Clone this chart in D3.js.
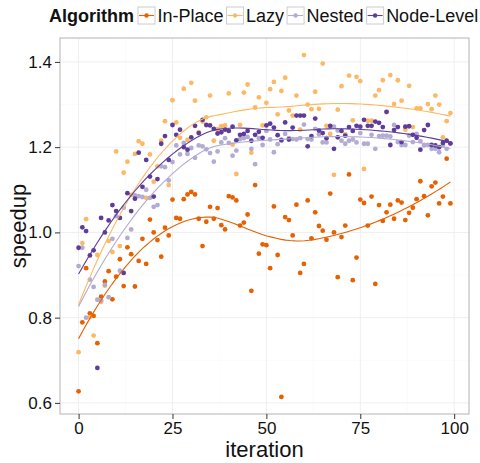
<!DOCTYPE html>
<html>
<head>
<meta charset="utf-8">
<script src="https://cdn.jsdelivr.net/npm/d3@7"></script>
<style>
  body { margin: 0; background: #fff; }
  text { font-family: "Liberation Sans", Arial, sans-serif; }
</style>
</head>
<body>
<script>
const width = 480
const height = 463

// Series: one value per iteration 0..99
const algorithms = ['In-Place', 'Lazy', 'Nested', 'Node-Level']
const colors = ['#e66101', '#fdb863', '#b2abd2', '#5e3c99']

const inPlace = [
  0.627, 0.789, 0.916, 0.810, 0.804, 0.740, 0.849, 0.885, 0.909, 0.843,
  0.896, 0.937, 0.874, 0.965, 0.949, 0.873, 0.933, 0.985, 0.926, 1.030,
  1.000, 0.982, 0.943, 1.011, 0.993, 1.077, 1.034, 1.032, 1.078, 1.089,
  1.095, 1.089, 1.032, 0.968, 1.025, 1.060, 1.032, 1.057, 1.017, 1.007,
  1.085, 1.082, 1.075, 1.016, 1.023, 1.042, 0.863, 1.111, 0.950, 0.972,
  0.970, 0.916, 1.061, 0.947, 0.614, 1.036, 1.029, 0.993, 1.065, 0.905,
  0.926, 1.075, 0.986, 1.047, 1.015, 1.004, 0.983, 1.091, 1.000, 0.895,
  0.989, 1.016, 1.136, 0.888, 0.941, 1.077, 1.069, 1.016, 1.084, 0.879,
  1.064, 1.027, 1.047, 1.065, 1.032, 1.075, 1.070, 1.029, 1.046, 1.058,
  1.078, 1.120, 1.085, 1.040, 1.108, 1.117, 1.068, 1.084, 1.173, 1.068
]
const lazy = [
  0.719, 0.975, 1.031, 0.801, 0.758, 0.947, 0.837, 0.875, 0.980, 0.954,
  1.190, 0.968, 1.140, 1.166, 1.088, 1.184, 1.214, 1.208, 1.081, 1.183,
  1.119, 1.155, 1.215, 1.261, 1.111, 1.310, 1.258, 1.222, 1.337, 1.217,
  1.351, 1.309, 1.235, 1.260, 1.270, 1.321, 1.215, 1.242, 1.249, 1.251,
  1.326, 1.206, 1.137, 1.252, 1.328, 1.347, 1.187, 1.293, 1.317, 1.251,
  1.304, 1.336, 1.353, 1.277, 1.332, 1.363, 1.286, 1.274, 1.321, 1.241,
  1.416, 1.300, 1.289, 1.330, 1.290, 1.396, 1.250, 1.231, 1.135, 1.288,
  1.343, 1.230, 1.368, 1.263, 1.365, 1.355, 1.149, 1.262, 1.262, 1.321,
  1.334, 1.357, 1.282, 1.369, 1.301, 1.357, 1.309, 1.241, 1.344, 1.247,
  1.291, 1.291, 1.205, 1.301, 1.289, 1.321, 1.300, 1.223, 1.261, 1.280
]
const nested = [
  0.921, 0.964, 0.800, 0.889, 0.872, 0.842, 0.840, 0.877, 0.848, 0.985,
  1.038, 0.910, 1.058, 0.987, 1.007, 1.087, 1.085, 1.083, 1.100, 1.081,
  1.060, 1.064, 1.155, 1.153, 1.122, 1.165, 1.204, 1.183, 1.210, 1.184,
  1.198, 1.175, 1.204, 1.202, 1.195, 1.186, 1.166, 1.190, 1.211, 1.221,
  1.210, 1.180, 1.192, 1.219, 1.221, 1.224, 1.196, 1.160, 1.221, 1.205,
  1.238, 1.218, 1.188, 1.207, 1.215, 1.231, 1.221, 1.219, 1.218, 1.221,
  1.253, 1.219, 1.218, 1.243, 1.230, 1.211, 1.211, 1.248, 1.248, 1.239,
  1.215, 1.208, 1.215, 1.218, 1.211, 1.233, 1.208, 1.208, 1.229, 1.196,
  1.226, 1.227, 1.227, 1.225, 1.252, 1.212, 1.205, 1.205, 1.227, 1.212,
  1.231, 1.214, 1.204, 1.205, 1.196, 1.196, 1.188, 1.204, 1.196, 1.208
]
const nodeLevel = [
  0.964, 1.012, 1.003, 0.946, 0.958, 0.682, 1.034, 1.000, 1.028, 1.064,
  1.050, 1.034, 0.905, 1.092, 1.050, 1.079, 1.187, 1.107, 1.170, 1.131,
  1.084, 1.125, 1.208, 1.226, 1.170, 1.252, 1.229, 1.241, 1.200, 1.194,
  1.223, 1.250, 1.233, 1.264, 1.252, 1.251, 1.243, 1.232, 1.235, 1.241,
  1.238, 1.248, 1.216, 1.229, 1.231, 1.238, 1.215, 1.229, 1.236, 1.222,
  1.251, 1.255, 1.246, 1.228, 1.217, 1.258, 1.218, 1.246, 1.274, 1.274,
  1.274, 1.202, 1.226, 1.267, 1.239, 1.233, 1.221, 1.250, 1.196, 1.223,
  1.238, 1.227, 1.247, 1.238, 1.250, 1.248, 1.264, 1.250, 1.250, 1.260,
  1.257, 1.247, 1.283, 1.205, 1.240, 1.247, 1.212, 1.248, 1.249, 1.229,
  1.222, 1.194, 1.240, 1.252, 1.205, 1.204, 1.200, 1.210, 1.215, 1.209
]

const xTicks = [0, 25, 50, 75, 100]
const yTicks = [0.6, 0.8, 1.0, 1.2, 1.4]

const series = [inPlace, lazy, nested, nodeLevel].map((vals, k) => ({
  name: algorithms[k],
  color: colors[k],
  points: vals.map((v, i) => ({ x: i, y: v }))
}))

// loess (degree 2, tricube, span .75) like geom_smooth
function loess(pts, span, xout) {
  const n = pts.length
  const q = Math.floor(n * span)
  return xout.map(x0 => {
    const d = pts.map(p => Math.abs(p.x - x0))
    const h = d.slice().sort((a, b) => a - b)[q - 1]
    let s = [0, 0, 0, 0, 0], t = [0, 0, 0]
    pts.forEach((p, i) => {
      const u = d[i] / h
      if (u >= 1) return
      const w = Math.pow(1 - u * u * u, 3)
      const dx = p.x - x0
      let xp = 1
      for (let k = 0; k < 5; k++) { s[k] += w * xp; if (k < 3) t[k] += w * xp * p.y; xp *= dx }
    })
    // solve 3x3 normal equations
    const A = [[s[0], s[1], s[2], t[0]], [s[1], s[2], s[3], t[1]], [s[2], s[3], s[4], t[2]]]
    for (let c = 0; c < 3; c++) {
      for (let r = c + 1; r < 3; r++) {
        const f = A[r][c] / A[c][c]
        for (let k = c; k < 4; k++) A[r][k] -= f * A[c][k]
      }
    }
    const b = [0, 0, 0]
    for (let r = 2; r >= 0; r--) {
      let acc = A[r][3]
      for (let k = r + 1; k < 3; k++) acc -= A[r][k] * b[k]
      b[r] = acc / A[r][r]
    }
    return { x: x0, y: b[0] }
  })
}

const allY = series.flatMap(s => s.points.map(p => p.y))
const yMin = d3.min(allY), yMax = d3.max(allY)
const yPad = (yMax - yMin) * 0.05

const panel = { left: 60, right: 469, top: 38, bottom: 414 }

const x = d3.scaleLinear().domain([-4.95, 103.95]).range([panel.left, panel.right])
const y = d3.scaleLinear().domain([yMin - yPad, yMax + yPad]).range([panel.bottom, panel.top])

const svg = d3.select('body').append('svg').attr('width', width).attr('height', height)

// panel background + grid
svg.append('rect')
  .attr('x', panel.left).attr('y', panel.top)
  .attr('width', panel.right - panel.left).attr('height', panel.bottom - panel.top)
  .attr('fill', '#fff')

const grid = svg.append('g')
const xMinor = [12.5, 37.5, 62.5, 87.5]
const yMinor = [0.7, 0.9, 1.1, 1.3]
grid.selectAll('line.xmin').data(xMinor).join('line')
  .attr('x1', d => x(d)).attr('x2', d => x(d)).attr('y1', panel.top).attr('y2', panel.bottom)
  .attr('stroke', '#f8f8f8').attr('stroke-width', 0.6)
grid.selectAll('line.ymin').data(yMinor).join('line')
  .attr('y1', d => y(d)).attr('y2', d => y(d)).attr('x1', panel.left).attr('x2', panel.right)
  .attr('stroke', '#f8f8f8').attr('stroke-width', 0.6)
grid.selectAll('line.xmaj').data(xTicks).join('line')
  .attr('x1', d => x(d)).attr('x2', d => x(d)).attr('y1', panel.top).attr('y2', panel.bottom)
  .attr('stroke', '#efefef').attr('stroke-width', 1)
grid.selectAll('line.ymaj').data(yTicks).join('line')
  .attr('y1', d => y(d)).attr('y2', d => y(d)).attr('x1', panel.left).attr('x2', panel.right)
  .attr('stroke', '#efefef').attr('stroke-width', 1)

// points
series.forEach(s => {
  svg.append('g').selectAll('circle').data(s.points).join('circle')
    .attr('cx', d => x(d.x)).attr('cy', d => y(d.y)).attr('r', 2.4)
    .attr('fill', s.color)
})

// smoothers
const xout = d3.range(80).map(i => i * 99 / 79)
const line = d3.line().x(d => x(d.x)).y(d => y(d.y))
series.forEach(s => {
  svg.append('path').datum(loess(s.points, 0.75, xout))
    .attr('d', line).attr('fill', 'none').attr('stroke', s.color).attr('stroke-width', 1.1)
})

// panel border
svg.append('rect')
  .attr('x', panel.left).attr('y', panel.top)
  .attr('width', panel.right - panel.left).attr('height', panel.bottom - panel.top)
  .attr('fill', 'none').attr('stroke', '#b3b3b3').attr('stroke-width', 1)

// axes
const xAxis = svg.append('g').attr('transform', `translate(0,${panel.bottom})`)
  .call(d3.axisBottom(x).tickValues(xTicks).tickSize(5).tickPadding(3).tickFormat(d3.format('d')))
const yAxis = svg.append('g').attr('transform', `translate(${panel.left},0)`)
  .call(d3.axisLeft(y).tickValues(yTicks).tickSize(5).tickPadding(3).tickFormat(d3.format('.1f')))
;[xAxis, yAxis].forEach(a => {
  a.select('.domain').remove()
  a.selectAll('.tick line').attr('stroke', '#333')
  a.selectAll('.tick text').attr('fill', '#111').style('font-size', '17px')
})

svg.append('text').attr('x', (panel.left + panel.right) / 2).attr('y', 457)
  .attr('text-anchor', 'middle').style('font-size', '22px').attr('fill', '#111').text('iteration')
svg.append('text').attr('transform', `translate(26,${(panel.top + panel.bottom) / 2}) rotate(-90)`)
  .attr('text-anchor', 'middle').style('font-size', '22px').attr('fill', '#111').text('speedup')

// legend
const legend = svg.append('g')
const title = legend.append('text').attr('x', 49).attr('y', 22)
  .style('font-size', '18px').style('font-weight', 'bold').attr('fill', '#111').text('Algorithm')
let cx = 49 + title.node().getComputedTextLength() + 4
series.forEach(s => {
  const g = legend.append('g').attr('transform', `translate(${cx},7)`)
  g.append('rect').attr('width', 17).attr('height', 17).attr('fill', '#fff').attr('stroke', '#ccc')
  g.append('line').attr('x1', 1).attr('x2', 16).attr('y1', 8.5).attr('y2', 8.5).attr('stroke', s.color).attr('stroke-width', 1.1)
  g.append('circle').attr('cx', 8.5).attr('cy', 8.5).attr('r', 2.2).attr('fill', s.color)
  const t = legend.append('text').attr('x', cx + 19.5).attr('y', 22)
    .style('font-size', '18px').attr('fill', '#111').text(s.name)
  cx += 19.5 + t.node().getComputedTextLength() + 3
})
</script>
</body>
</html>
